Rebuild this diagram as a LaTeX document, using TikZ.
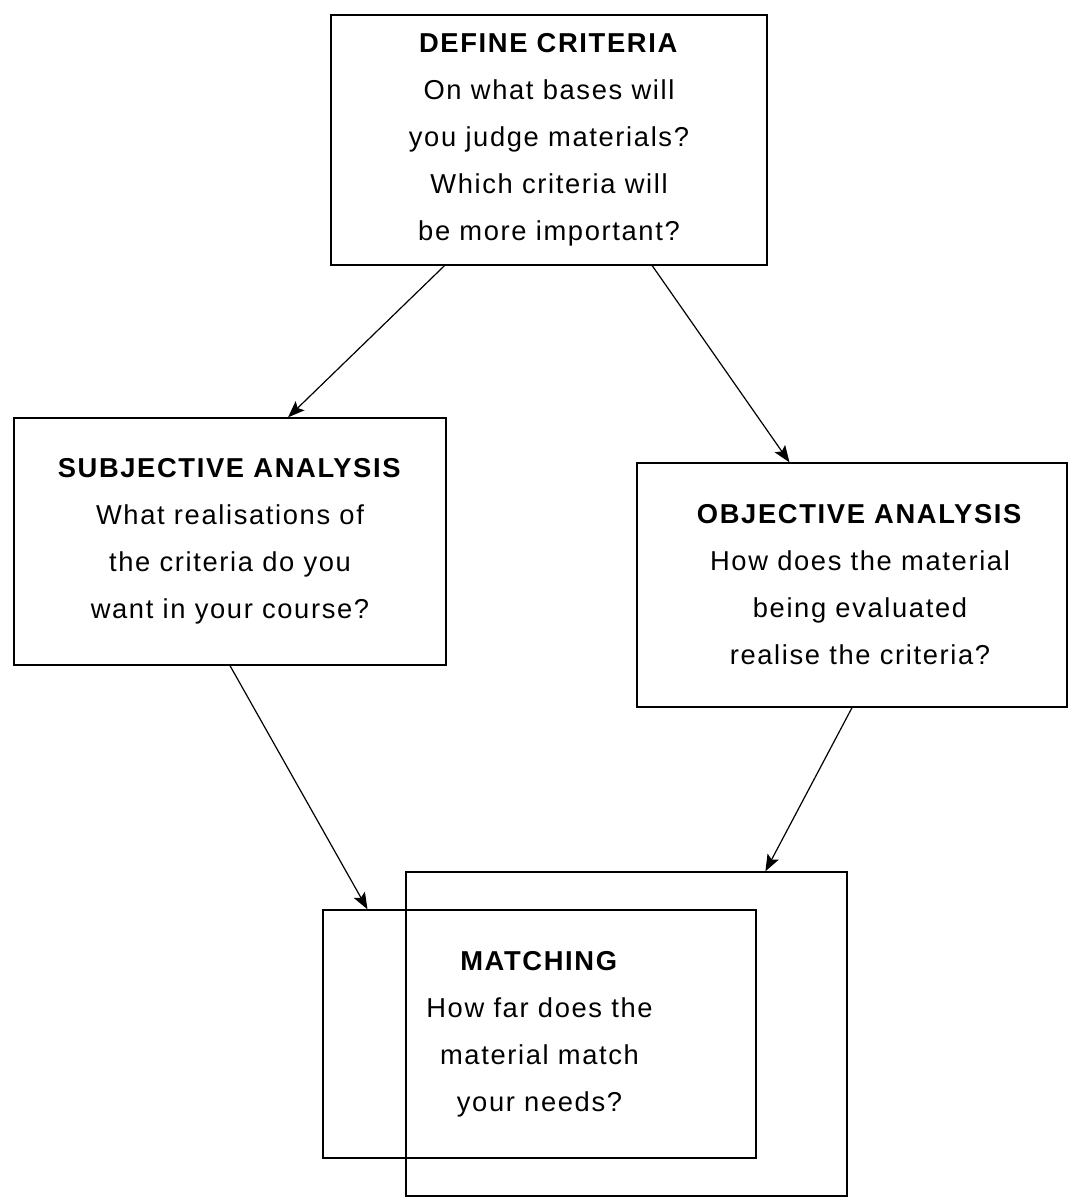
\documentclass[tikz,border=0pt]{standalone}
\usepackage{fontspec}
\setmainfont{Liberation Sans}[LetterSpace=6]
\usetikzlibrary{arrows.meta,calc}
\begin{document}
\begin{tikzpicture}[x=0.75pt,y=-0.75pt,
  box/.style={draw,line width=1pt,inner sep=0pt,align=center,
    font=\fontsize{20.5pt}{35.25pt}\selectfont},
  link/.style={draw,line width=0.9pt,
    -{Stealth[length=12.5pt,width=9.5pt,inset=2.5pt]}}]
\useasboundingbox (0,0) rectangle (1070,1198);

% stages of the evaluation
\node[box,minimum width=327pt,minimum height=187.5pt] (define) at (549,140)
  {\textbf{DEFINE CRITERIA}\\On what bases will\\you judge materials?\\Which criteria will\\be more important?};
\node[box,minimum width=324pt,minimum height=185.25pt] (subj) at (230,541.5)
  {\textbf{SUBJECTIVE ANALYSIS}\\What realisations of\\the criteria do you\\want in your course?};
\node[box,minimum width=322.5pt,minimum height=183pt] (obj) at (852,585)
  {\hspace*{12pt}\textbf{OBJECTIVE ANALYSIS}\\\hspace*{12pt}How does the material\\\hspace*{12pt}being evaluated\\\hspace*{12pt}realise the criteria?};

% the two overlapping frames of the matching step
\node[box,minimum width=330.75pt,minimum height=243pt] (matchback) at (626.5,1034) {};
\node[box,minimum width=324.75pt,minimum height=186pt] (match) at (539.5,1034)
  {\textbf{MATCHING}\\How far does the\\material match\\your needs?};

% connectors
\draw[link] ($(define.south west)!0.261!(define.south east)$)
  -- ($(subj.north west)!0.634!(subj.north east)$);
\draw[link] ($(define.south west)!0.736!(define.south east)$)
  -- ($(obj.north west)!0.355!(obj.north east)$);
\draw[link] (subj.south)
  -- ($(match.north west)!0.104!(match.north east)$);
\draw[link] (obj.south)
  -- ($(matchback.north west)!0.814!(matchback.north east)$);
\end{tikzpicture}
\end{document}
